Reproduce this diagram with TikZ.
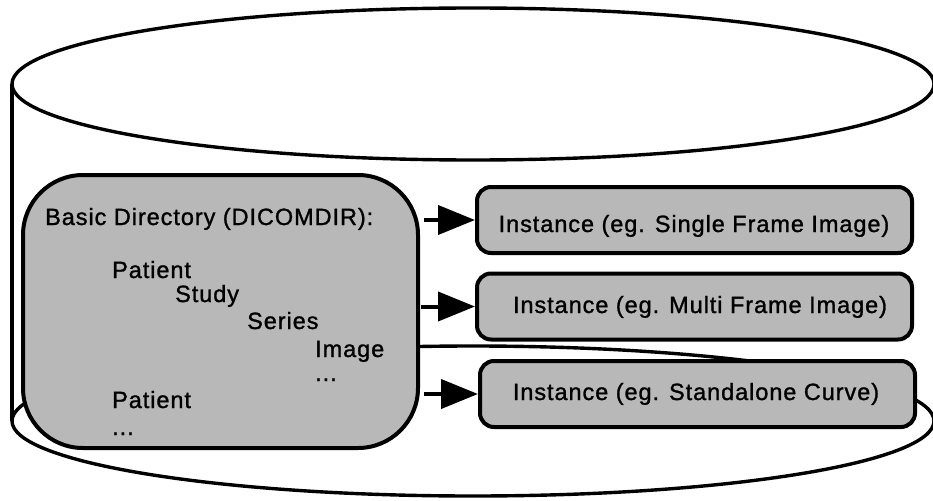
\documentclass[tikz,border=0pt]{standalone}
\usepackage{fontspec}
\setmainfont{Liberation Sans}[LetterSpace=4,FakeBold=1.2]
\usetikzlibrary{arrows.meta}
\definecolor{boxgray}{HTML}{B8B8B8}
\begin{document}
\begin{tikzpicture}[x=1pt,y=-1pt,
  cyl/.style={line width=3.4pt},
  dirbox/.style={draw, line width=4pt, fill=boxgray, rounded corners=60pt,
    minimum width=395pt, minimum height=273pt, inner sep=0pt},
  instbox/.style={draw, line width=4pt, fill=boxgray, rounded corners=14pt,
    minimum width=435pt, minimum height=66pt, inner sep=0pt},
  lbl/.style={font=\fontsize{23.5}{27}\selectfont, inner sep=0pt},
  arr/.style={line width=4pt, -{Triangle[length=37pt,width=29pt]}}]
\useasboundingbox (0,0) rectangle (933,500);
\clip (0,0) rectangle (933,500);
\fill[white] (0,0) rectangle (933,500);
% cylinder
\coordinate (tl) at (12,84);
\coordinate (bl) at (12,421);
\draw[cyl] (473,84) ellipse [x radius=461, y radius=76];
\draw[cyl] (473,421) ellipse [x radius=461, y radius=75];
\draw[cyl] (tl) -- (bl);
% directory box
\node[dirbox] (dir) at (220.5,311.5) {};
\node[lbl, anchor=base west] (t0) at (45,225) {Basic Directory (DICOMDIR):};
\node[lbl, anchor=base west] (t1) at (112,278) {Patient};
\node[lbl, anchor=base west] (t2) at (175,302) {Study};
\node[lbl, anchor=base west] (t3) at (247,329) {Series};
\node[lbl, anchor=base west] (t4) at (315,357) {Image};
\node[lbl, anchor=base west] (t5) at (315,381) {...};
\node[lbl, anchor=base west] (t6) at (112,408) {Patient};
\node[lbl, anchor=base west] (t7) at (112,435) {...};
% instance boxes
\node[instbox] (i1) at (694.5,220) {};
\node[instbox] (i2) at (694.5,306.5) {};
\node[instbox] (i3) at (697.5,394) {};
\node[lbl, anchor=base] (l1) at (694,232) {Instance (eg. Single Frame Image)};
\node[lbl, anchor=base] (l2) at (700,313) {Instance (eg. Multi Frame Image)};
\node[lbl, anchor=base] (l3) at (696,400) {Instance (eg. Standalone Curve)};
% arrows
\draw[arr] ([xshift=4pt]dir.east |- i1.west) -- (i1.west);
\draw[arr] ([xshift=1pt]dir.east |- i2.west) -- (i2.west);
\draw[arr] ([xshift=4pt]dir.east |- i3.west) -- (i3.west);
\end{tikzpicture}
\end{document}
